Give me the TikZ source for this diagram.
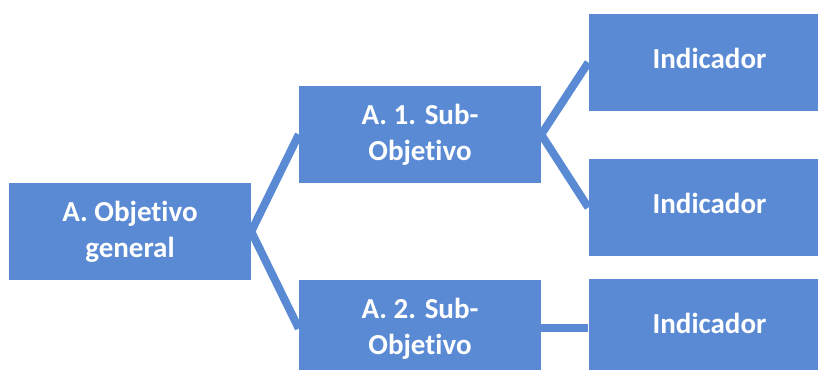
\documentclass[tikz,border=0pt]{standalone}
\usepackage{fontspec}
\setmainfont{Carlito}[Ligatures={NoCommon}]
\usetikzlibrary{backgrounds}
\definecolor{boxblue}{RGB}{91,138,212}
\tikzset{
  box/.style={rectangle, fill=boxblue, minimum width=242pt, minimum height=97pt,
    inner sep=0pt, align=center, text=white,
    font=\fontsize{29pt}{36pt}\selectfont\bfseries},
  onebox/.style={box, text depth=9pt},
  link/.style={draw=boxblue, line width=8pt}
}
\begin{document}
\begin{tikzpicture}[x=1pt,y=-1pt]
\useasboundingbox (0,0) rectangle (818,369);
\node[box] (A) at (130,231.5) {A. Objetivo\\general};
\node[box] (S1) at (420,134.5) {A. 1. Sub-\\Objetivo};
\node[box] (S2) at (420,328.5) {A. 2. Sub-\\Objetivo};
\node[onebox] (I1) at (709.5,62.5) {Indicador};
\node[onebox] (I2) at (709.5,207.5) {Indicador};
\node[onebox] (I3) at (709.5,327.5) {Indicador};
\begin{scope}[on background layer]
\draw[link] (A.east) -- (S1.west);
\draw[link] (A.east) -- (S2.west);
\draw[link] (S1.east) -- (I1.west);
\draw[link] (S1.east) -- (I2.west);
\draw[link] (I3.west -| S2.east) -- (I3.west);
\end{scope}
\end{tikzpicture}
\end{document}
